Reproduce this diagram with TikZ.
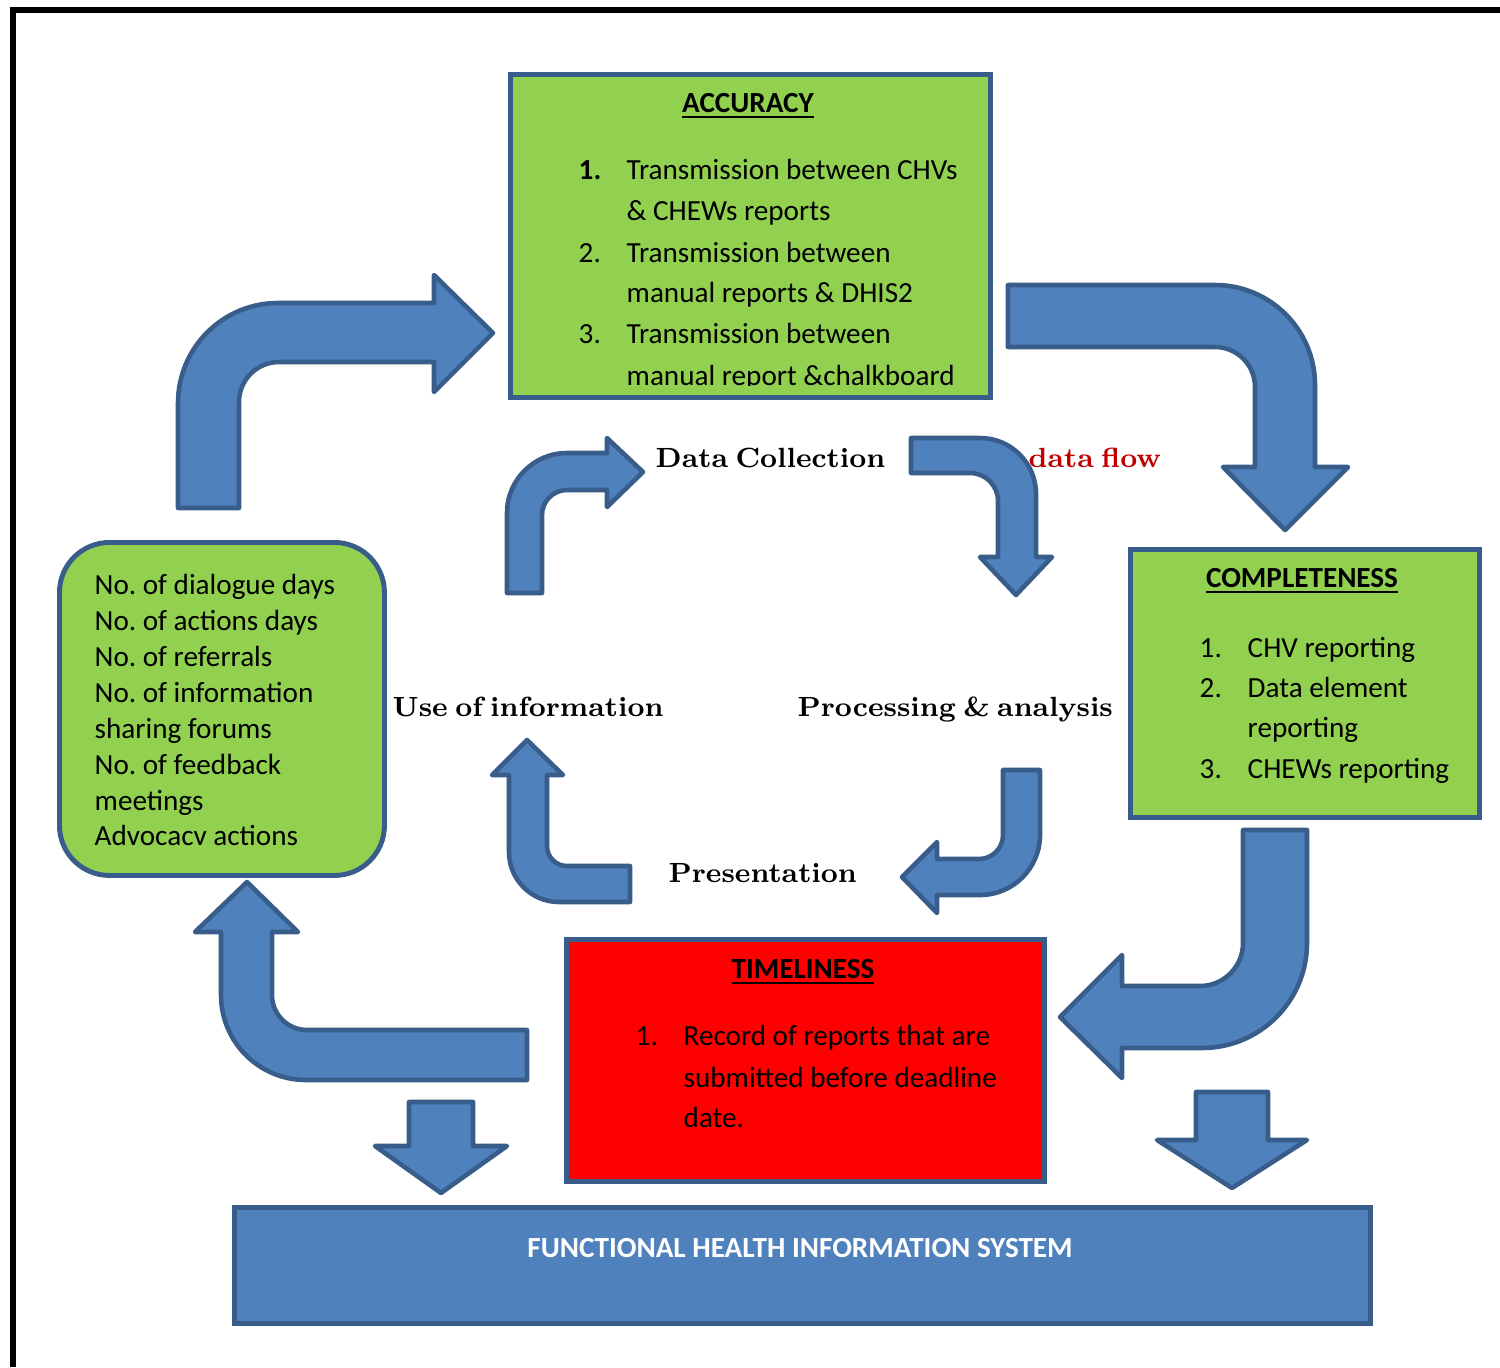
\documentclass[tikz,border=0pt]{standalone}
\usepackage{fontspec}
\newfontfamily\calibri{Carlito}
\definecolor{boxgreen}{HTML}{92D050}
\definecolor{arrowblue}{HTML}{4F81BD}
\definecolor{edgeblue}{HTML}{385D8A}
\definecolor{flowred}{HTML}{C00000}
\frenchspacing
\newcommand\stagefont{\bfseries\fontsize{7.9}{9}\selectfont\spaceskip=0.27em\relax}

\begin{document}
\begin{tikzpicture}[x = 0.1mm, y = -0.1mm,
	panel/.style = {draw = edgeblue, line width = 1.4pt, inner sep = 0pt, anchor = north west},
	blockarrow/.style = {draw = edgeblue, fill = arrowblue, line width = 1.3pt, line join = round},
	txt/.style = {font = \calibri\fontsize{8.3}{10}\selectfont, inner sep = 0pt, anchor = base west},
	heading/.style = {font = \calibri\bfseries\fontsize{8.3}{10}\selectfont, inner sep = 0pt, anchor = base},
	stage/.style = {font = \stagefont, inner sep = 0pt, anchor = base west}]

	\useasboundingbox (0, 0) rectangle (1500, 1367);

	% Frame

	\draw[line width = 0.6mm] (1500, 10) -- (13, 10) -- (13, 1367);

	% Boxes

	\node[panel, fill = boxgreen, minimum width = 48mm, minimum height = 32.3mm] (accuracy) at (508, 72) {};
	\node[panel, fill = boxgreen, minimum width = 34.9mm, minimum height = 26.8mm] (completeness) at (1128, 547) {};
	\node[panel, fill = red, minimum width = 47.8mm, minimum height = 24.2mm] (timeliness) at (564, 937) {};
	\node[panel, fill = boxgreen, rounded corners = 5mm, minimum width = 32.5mm, minimum height = 33.3mm] (indicators) at (57, 540) {};
	\node[panel, fill = arrowblue, minimum width = 113.6mm, minimum height = 11.6mm] (fhis) at (232, 1205) {};

	% Accuracy

	\node[heading] (acc head) at (748, 112) {\underline{ACCURACY}};
	\begin{scope}
		\clip (510, 74) rectangle (986, 385);
		\node[txt] (acc n1) at (578, 179) {\bfseries 1.};
		\node[txt] (acc t1) at (626, 179) {Transmission between CHVs};
		\node[txt] (acc t1b) at (626, 220) {\& CHEWs reports};
		\node[txt] (acc n2) at (578, 262) {2.};
		\node[txt] (acc t2) at (626, 262) {Transmission between};
		\node[txt] (acc t2b) at (626, 302) {manual reports \& DHIS2};
		\node[txt] (acc n3) at (578, 343) {3.};
		\node[txt] (acc t3) at (626, 343) {Transmission between};
		\node[txt] (acc t3b) at (626, 385) {manual report \&chalkboard};
	\end{scope}

	% Completeness

	\node[heading] (comp head) at (1302, 587) {\underline{COMPLETENESS}};
	\node[txt] (comp n1) at (1199, 657) {1.};
	\node[txt] (comp t1) at (1247, 657) {CHV reporting};
	\node[txt] (comp n2) at (1199, 697) {2.};
	\node[txt] (comp t2) at (1247, 697) {Data element};
	\node[txt] (comp t2b) at (1247, 737) {reporting};
	\node[txt] (comp n3) at (1199, 778) {3.};
	\node[txt] (comp t3) at (1247, 778) {CHEWs reporting};

	% Timeliness

	\node[heading] (time head) at (803, 978) {\underline{TIMELINESS}};
	\node[txt] (time n1) at (635, 1045) {1.};
	\node[txt] (time t1) at (683, 1045) {Record of reports that are};
	\node[txt] (time t1b) at (683, 1087) {submitted before deadline};
	\node[txt] (time t1c) at (683, 1127) {date.};

	% Indicators

	\node[txt] (ind 1) at (94, 594) {No. of dialogue days};
	\node[txt] (ind 2) at (94, 630) {No. of actions days};
	\node[txt] (ind 3) at (94, 666) {No. of referrals};
	\node[txt] (ind 4) at (94, 702) {No. of information};
	\node[txt] (ind 5) at (94, 738) {sharing forums};
	\node[txt] (ind 6) at (94, 774) {No. of feedback};
	\node[txt] (ind 7) at (94, 810) {meetings};
	\node[txt] (ind 8) at (94, 845) {Advocacv actions};

	% System

	\node[heading, text = white] (fhis text) at (800, 1257) {FUNCTIONAL HEALTH INFORMATION SYSTEM};

	% Stages of the data flow

	\node[stage] (collection) at (655, 467) {Data Collection};
	\node[stage, text = flowred] (flow) at (1028, 467) {data flow};
	\node[stage] (use) at (392, 716) {Use of information};
	\node[stage] (processing) at (797, 716) {Processing \& analysis};
	\node[stage] (presentation) at (668, 882) {Presentation};

	% Big arrows

	\draw[blockarrow] (178, 508) -- (178, 403) arc[start angle = 180, end angle = 90, radius = 10mm] -- (434, 303) -- (434, 275) -- (493, 333) -- (434, 392) -- (434, 362) -- (279, 362) arc[start angle = 90, end angle = 180, radius = 4mm] -- (239, 508) -- cycle;
	\draw[blockarrow] (1008, 285) -- (1215, 285) arc[start angle = 90, end angle = 0, radius = 10mm] -- (1315, 467) -- (1348, 467) -- (1285, 530) -- (1223, 467) -- (1255, 467) -- (1255, 387) arc[start angle = 0, end angle = 90, radius = 4mm] -- (1008, 347) -- cycle;
	\draw[blockarrow] (1243, 830) -- (1307, 830) -- (1307, 943) arc[start angle = 0, end angle = -90, radius = 10.5mm] -- (1122, 1048) -- (1122, 1078) -- (1060, 1017) -- (1122, 955) -- (1122, 986) -- (1200, 986) arc[start angle = -90, end angle = 0, radius = 4.3mm] -- cycle;
	\draw[blockarrow] (527, 1030) -- (307, 1030) arc[start angle = 270, end angle = 180, radius = 3.5mm] -- (272, 932) -- (298, 932) -- (247, 882) -- (195, 932) -- (221, 932) -- (221, 995) arc[start angle = 180, end angle = 270, radius = 8.5mm] -- (527, 1080) -- cycle;

	% Small arrows

	\draw[blockarrow] (507, 593) -- (507, 513) arc[start angle = 180, end angle = 90, radius = 6mm] -- (607, 453) -- (607, 438) -- (643, 472) -- (607, 507) -- (607, 490) -- (567, 490) arc[start angle = 90, end angle = 180, radius = 2.5mm] -- (542, 593) -- cycle;
	\draw[blockarrow] (911, 438) -- (980, 438) arc[start angle = 90, end angle = 0, radius = 5.6mm] -- (1036, 557) -- (1052, 557) -- (1016, 595) -- (980, 557) -- (998, 557) -- (998, 501) arc[start angle = 0, end angle = 90, radius = 2.8mm] -- (911, 473) -- cycle;
	\draw[blockarrow] (1003, 770) -- (1040, 770) -- (1040, 835) arc[start angle = 0, end angle = -90, radius = 6mm] -- (937, 895) -- (937, 913) -- (902, 877) -- (937, 842) -- (937, 859) -- (979, 859) arc[start angle = -90, end angle = 0, radius = 2.4mm] -- cycle;
	\draw[blockarrow] (630, 866) -- (567, 866) arc[start angle = 270, end angle = 180, radius = 2mm] -- (547, 775) -- (563, 775) -- (527, 740) -- (492, 775) -- (509, 775) -- (509, 852) arc[start angle = 180, end angle = 270, radius = 5mm] -- (630, 902) -- cycle;

	% Down to the system

	\draw[blockarrow] (409, 1102) -- (473, 1102) -- (473, 1146) -- (507, 1146) -- (441, 1193) -- (375, 1146) -- (409, 1146) -- cycle;
	\draw[blockarrow] (1196, 1092) -- (1268, 1092) -- (1268, 1140) -- (1307, 1140) -- (1232, 1188) -- (1157, 1140) -- (1196, 1140) -- cycle;

\end{tikzpicture}
\end{document}
